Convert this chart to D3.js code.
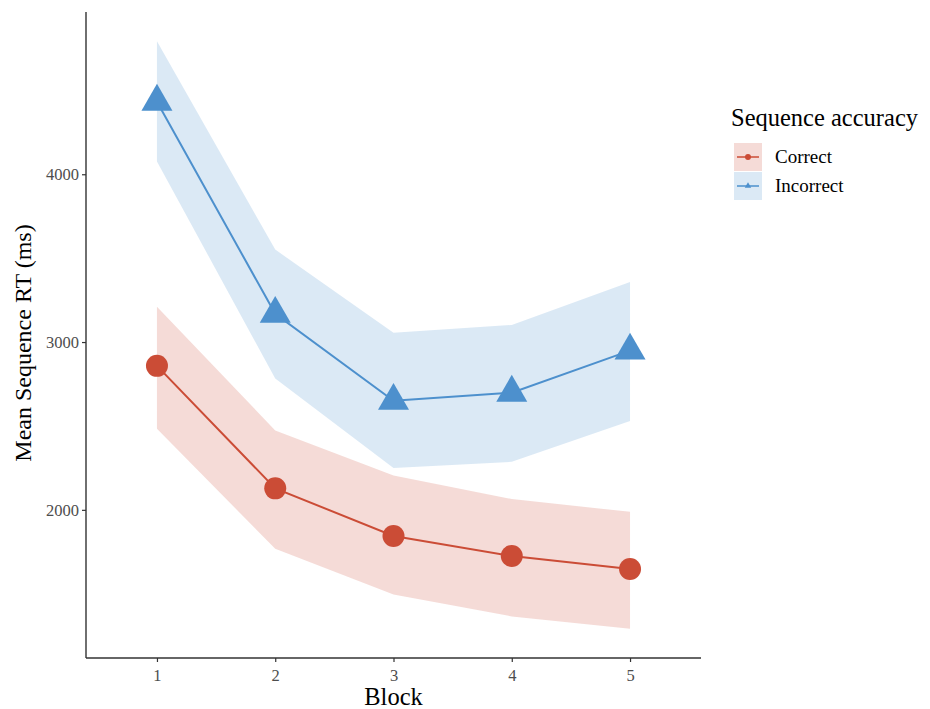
<!DOCTYPE html>
<html>
<head>
<meta charset="utf-8">
<script src="https://cdn.jsdelivr.net/npm/d3@7"></script>
<style>
  body { margin: 0; background: #fff; }
  svg { display: block; font-family: "Liberation Serif", "Times New Roman", serif; }
</style>
</head>
<body>
<svg id="chart" width="930" height="709"></svg>
<script>
const blocks = [1, 2, 3, 4, 5];
const seriesNames = ["Correct", "Incorrect"];
const correctMean  = [2858, 2128, 1844, 1725, 1647];
const correctLower = [2483, 1768, 1495, 1365, 1292];
const correctUpper = [3211, 2473, 2204, 2064, 1988];
const incorrectMean  = [4432, 3168, 2650, 2698, 2949];
const incorrectLower = [4076, 2783, 2250, 2286, 2529];
const incorrectUpper = [4792, 3551, 3056, 3102, 3358];
const yTicks = [2000, 3000, 4000];
const colors = { Correct: "#CB4C36", Incorrect: "#4D90CD" };

(function () {
const series = [
  { name: "Correct", mean: correctMean, lower: correctLower, upper: correctUpper },
  { name: "Incorrect", mean: incorrectMean, lower: incorrectLower, upper: incorrectUpper }
];

const svg = d3.select("#chart");
const pLeft = 86, pRight = 701, pTop = 12, pBottom = 658;

const x = d3.scaleLinear().domain([0.4, 5.6]).range([pLeft, pRight]);
const allVals = [].concat(correctLower, correctUpper, incorrectLower, incorrectUpper);
const ymin = d3.min(allVals), ymax = d3.max(allVals), pad = (ymax - ymin) * 0.05;
const y = d3.scaleLinear().domain([ymin - pad, ymax + pad]).range([pBottom, pTop]);

const g = svg.append("g");

series.forEach(s => {
  const area = d3.area()
    .x((d, i) => x(blocks[i]))
    .y0((d, i) => y(s.lower[i]))
    .y1((d, i) => y(s.upper[i]));
  g.append("path").datum(s.mean).attr("d", area)
    .attr("fill", colors[s.name]).attr("fill-opacity", 0.2);
});

series.forEach(s => {
  const line = d3.line().x((d, i) => x(blocks[i])).y(d => y(d));
  g.append("path").datum(s.mean).attr("d", line)
    .attr("fill", "none").attr("stroke", colors[s.name]).attr("stroke-width", 2);
});
const circ = d3.symbol().type(d3.symbolCircle).size(Math.PI * 11 * 11);
g.selectAll(".pc").data(correctMean).join("path")
  .attr("d", circ)
  .attr("transform", (d, i) => `translate(${x(blocks[i])},${y(d)})`)
  .attr("fill", colors.Correct);
const tri = d3.symbol().type(d3.symbolTriangle).size(Math.sqrt(3) / 4 * 31 * 31);
g.selectAll(".pt").data(incorrectMean).join("path")
  .attr("d", tri)
  .attr("transform", (d, i) => `translate(${x(blocks[i])},${y(d)})`)
  .attr("fill", colors.Incorrect);

const xAxis = d3.axisBottom(x).tickValues(blocks).tickSize(4).tickPadding(7).tickFormat(d3.format("d"));
const gx = svg.append("g").attr("transform", `translate(0,${pBottom})`).call(xAxis);
const yAxis = d3.axisLeft(y).tickValues(yTicks).tickSize(4).tickPadding(3).tickFormat(d3.format("d"));
const gy = svg.append("g").attr("transform", `translate(${pLeft},0)`).call(yAxis);
[gx, gy].forEach(a => {
  a.attr("font-size", null).attr("font-family", null);
  a.select(".domain").attr("stroke", "#333").attr("stroke-width", 1.4);
  a.selectAll(".tick line").attr("stroke", "#333").attr("stroke-width", 1.2);
  a.selectAll(".tick text").attr("fill", "#4D4D4D")
    .style("font-size", "16.5px").style("font-family", "'Liberation Serif', serif");
});
gx.select(".domain").attr("d", `M${pLeft},0H${pRight}`);
gy.select(".domain").attr("d", `M0,${pBottom}V${pTop}`);

svg.append("text").attr("x", (pLeft + pRight) / 2).attr("y", 705)
  .attr("text-anchor", "middle").style("font-size", "24.5px").attr("fill", "#000").text("Block");
svg.append("text").attr("transform", `translate(31,${(pTop + pBottom) / 2 + 8}) rotate(-90)`)
  .attr("text-anchor", "middle").style("font-size", "24px").attr("fill", "#000").text("Mean Sequence RT (ms)");

const lg = svg.append("g");
lg.append("text").attr("x", 731).attr("y", 126).style("font-size", "24.5px").attr("fill", "#000")
  .text("Sequence accuracy");
seriesNames.forEach((name, i) => {
  const y0 = 143 + i * 29;
  lg.append("rect").attr("x", 734).attr("y", y0).attr("width", 28).attr("height", 28)
    .attr("fill", colors[name]).attr("fill-opacity", 0.2);
  lg.append("line").attr("x1", 737).attr("x2", 759).attr("y1", y0 + 14).attr("y2", y0 + 14)
    .attr("stroke", colors[name]).attr("stroke-width", 1.5);
  const sym = name === "Correct"
    ? d3.symbol().type(d3.symbolCircle).size(Math.PI * 3 * 3)
    : d3.symbol().type(d3.symbolTriangle).size(18);
  lg.append("path").attr("d", sym).attr("transform", `translate(748,${y0 + 14})`)
    .attr("fill", colors[name]);
  lg.append("text").attr("x", 775).attr("y", y0 + 20).style("font-size", "19px").attr("fill", "#000")
    .text(name);
});
})();
</script>
</body>
</html>
